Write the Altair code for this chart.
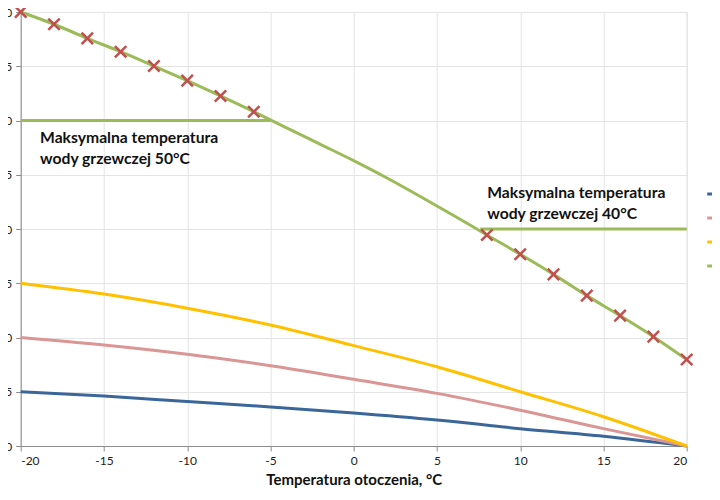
import altair as alt
import pandas as pd

# ---- data ----
x_main = [-20, -15, -10, -5, 0, 5, 10, 15, 20]
blue_vals = [25.0, 24.6, 24.1, 23.6, 23.05, 22.4, 21.6, 20.9, 20.0]
pink_vals = [30.0, 29.3, 28.45, 27.4, 26.15, 24.85, 23.3, 21.6, 20.0]
yellow_vals = [35.0, 34.0, 32.7, 31.15, 29.25, 27.3, 25.0, 22.7, 20.0]

x_green = [-20, -18, -16, -14, -12, -10, -8, -6, -4, -2, 0, 2, 4, 6, 8, 10, 12, 14, 16, 18, 20]
green_vals = [60.0, 58.87, 57.57, 56.34, 55.02, 53.67, 52.26, 50.81, 49.3, 47.8, 46.3,
              44.7, 43.0, 41.25, 39.45, 37.67, 35.82, 33.86, 32.01, 30.08, 27.97]

x_markers = [-20, -18, -16, -14, -12, -10, -8, -6, 8, 10, 12, 14, 16, 18, 20]
marker_vals = [60.0, 58.87, 57.57, 56.34, 55.02, 53.67, 52.26, 50.81,
               39.45, 37.67, 35.82, 33.86, 32.01, 30.08, 27.97]

cap_x_start = [-20, 7.6]
cap_x_end = [-5, 20]
cap_y = [50, 40]

series_names = ["Krzywa 25°C", "Krzywa 30°C", "Krzywa 35°C", "Krzywa 60°C"]
series_colors = ["#3b6699", "#d99694", "#ffc000", "#9bbb59"]

ann_line1 = ["Maksymalna temperatura", "Maksymalna temperatura"]
ann_line2 = ["wody grzewczej 50°C", "wody grzewczej 40°C"]
ann_x = [-18.84, 8.02]
ann_y = [48.43, 43.35]

x_ticks = [-20, -15, -10, -5, 0, 5, 10, 15, 20]
y_ticks = [20, 25, 30, 35, 40, 45, 50, 55, 60]

# ---- tables ----
rows = []
for name, vals in zip(series_names[:3], [blue_vals, pink_vals, yellow_vals]):
    for xv, yv in zip(x_main, vals):
        rows.append({"x": xv, "y": yv, "s": name})
for xv, yv in zip(x_green, green_vals):
    rows.append({"x": xv, "y": yv, "s": series_names[3]})
lines_df = pd.DataFrame(rows)
markers_df = pd.DataFrame({"x": x_markers, "y": marker_vals})
caps_df = pd.DataFrame({"x": cap_x_start, "x2": cap_x_end, "y": cap_y})
ann_df = pd.DataFrame({"x": ann_x, "y": ann_y, "t1": ann_line1, "t2": ann_line2})

FONT = "Lato"

xscale = alt.Scale(domain=[-20, 20], nice=False)
yscale = alt.Scale(domain=[20, 60], nice=False)

xaxis = alt.Axis(values=x_ticks, title="Temperatura otoczenia, °C", grid=True,
                 gridColor="#e4e4e4", domainColor="#8c8c8c", tickColor="#8c8c8c",
                 tickSize=5, labelFontSize=12, labelColor="#222222", labelFont=FONT,
                 labelPadding=4, labelExpr="datum.value + ''",
                 titleFont=FONT, titleFontSize=15, titleFontWeight="bold",
                 titleColor="#111111", titlePadding=6)
yaxis = alt.Axis(values=y_ticks, title=None, grid=True, gridColor="#e4e4e4",
                 domainColor="#8c8c8c", tickColor="#8c8c8c", tickSize=5,
                 labelFontSize=12, labelColor="#222222", labelFont=FONT, labelPadding=4,
                 labelExpr="datum.value + ''")

lines = alt.Chart(lines_df).mark_line(strokeWidth=3, interpolate="monotone").encode(
    x=alt.X("x:Q", scale=xscale, axis=xaxis),
    y=alt.Y("y:Q", scale=yscale, axis=yaxis),
    color=alt.Color("s:N", scale=alt.Scale(domain=series_names, range=series_colors),
                    sort=series_names,
                    legend=alt.Legend(title=None, orient="none", legendX=685, legendY=173,
                                      symbolType="stroke", symbolStrokeWidth=3,
                                      symbolSize=225, rowPadding=9, padding=0,
                                      labelFont=FONT, labelFontSize=12)),
    order=alt.Order("x:Q"),
)

caps = alt.Chart(caps_df).mark_rule(strokeWidth=3, color="#9bbb59").encode(
    x="x:Q", x2="x2:Q", y="y:Q"
)

markers = alt.Chart(markers_df).mark_point(
    shape="M-1,-1L1,1M1,-1L-1,1", size=130, strokeWidth=2.5, color="#c0504d",
    filled=False, opacity=1
).encode(x="x:Q", y="y:Q")

txt1 = alt.Chart(ann_df).mark_text(align="left", baseline="middle", font=FONT,
                                   fontSize=15.7, fontWeight="bold", color="#111111").encode(
    x="x:Q", y="y:Q", text="t1:N")
txt2 = alt.Chart(ann_df).mark_text(align="left", baseline="middle", font=FONT,
                                   fontSize=15.7, fontWeight="bold", color="#111111", dy=21).encode(
    x="x:Q", y="y:Q", text="t2:N")

chart = alt.layer(lines, caps, markers, txt1, txt2).properties(
    width=666, height=434,
    autosize=alt.AutoSizeParams(type="none"),
    padding={"left": 12.7, "top": 4, "right": 25.3, "bottom": 46},
).configure_view(stroke=None).configure(background="white")

chart.save("out.html", embed_options={"renderer": "svg", "actions": False})
